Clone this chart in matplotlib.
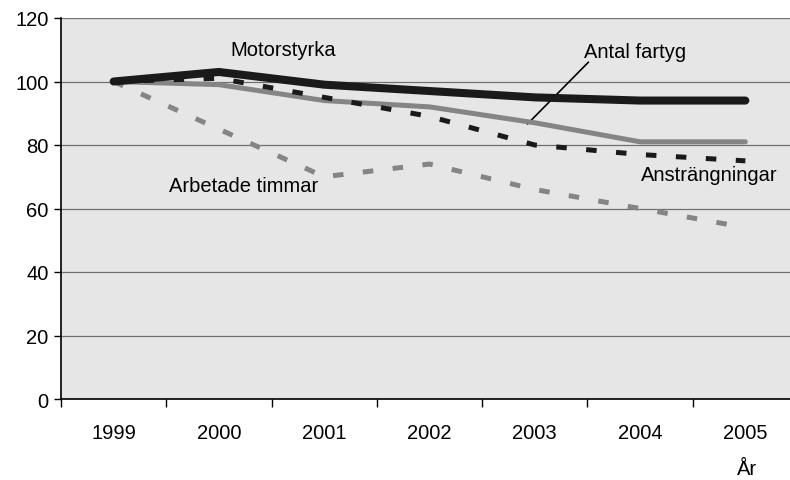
import matplotlib
matplotlib.use("Agg")
import matplotlib.pyplot as plt
import numpy as np

plt.rcParams["font.family"] = ["Liberation Sans", "DejaVu Sans"]

years = ["1999", "2000", "2001", "2002", "2003", "2004", "2005"]
motorstyrka = [100, 103, 99, 97, 95, 94, 94]
antal_fartyg = [100, 99, 94, 92, 87, 81, 81]
anstrangningar = [100, 101, 95, 89, 80, 77, 75]
arbetade_timmar = [100, 85, 70, 74, 66, 60, 54]

y_ticks = [0, 20, 40, 60, 80, 100, 120]


def main() -> None:
    fig = plt.figure(figsize=(7.9, 4.81), dpi=100)
    # plot area runs slightly past the right edge, as in the reference
    ax = fig.add_axes([61 / 790, 1 - 400 / 481, 737 / 790, 381 / 481])
    ax.set_facecolor("#e6e6e6")

    x = np.arange(len(years))
    ax.plot(x, arbetade_timmar, color="#858585", linewidth=3.6,
            dashes=(2.1, 3.9), zorder=3)
    ax.plot(x, antal_fartyg, color="#858585", linewidth=3.6,
            solid_capstyle="round", zorder=4)
    ax.plot(x, anstrangningar, color="#1a1a1a", linewidth=3.6,
            dashes=(2.1, 3.9), zorder=5)
    ax.plot(x, motorstyrka, color="#1a1a1a", linewidth=5.8,
            solid_capstyle="round", solid_joinstyle="round", zorder=6)

    ax.set_xlim(-0.5, len(years) - 0.5)
    ax.set_ylim(0, 120)
    ax.set_yticks(y_ticks)
    ax.set_yticklabels([str(v) for v in y_ticks], fontsize=14.5)
    ax.yaxis.grid(True, color="#707070", linewidth=0.9)
    ax.set_axisbelow(True)

    ax.set_xticks(np.arange(len(years) + 1) - 0.5)
    ax.set_xticklabels([])
    ax.set_xticks(x, minor=True)
    ax.set_xticklabels(years, minor=True, fontsize=14.5)
    ax.tick_params(axis="x", which="major", length=6, width=1, direction="out")
    ax.tick_params(axis="x", which="minor", length=0, pad=17)
    ax.tick_params(axis="y", length=5, width=1, direction="out", pad=4)

    for side in ["top", "right"]:
        ax.spines[side].set_visible(False)
    for side in ["left", "bottom"]:
        ax.spines[side].set_linewidth(1.2)
        ax.spines[side].set_color("black")

    ax.text(1.61, 110.2, "Motorstyrka", fontsize=14.5, ha="center", va="center")
    ax.text(4.95, 109.6, "Antal fartyg", fontsize=14.5, ha="center", va="center")
    ax.annotate("", xy=(3.93, 86.6), xytext=(4.51, 106.1),
                arrowprops=dict(arrowstyle="-", color="black", linewidth=1.2,
                                shrinkA=0, shrinkB=0))
    ax.text(5.66, 70.6, "Ansträngningar", fontsize=14.5, ha="center", va="center")
    ax.text(1.23, 67.1, "Arbetade timmar", fontsize=14.5, ha="center", va="center")

    # axis title near the bottom edge, as in the reference
    fig.text(747 / 790, 2 / 481, "År", fontsize=14.5, ha="center", va="bottom")

    fig.savefig("out.png", dpi=100)
    plt.close(fig)


if __name__ == "__main__":
    main()
